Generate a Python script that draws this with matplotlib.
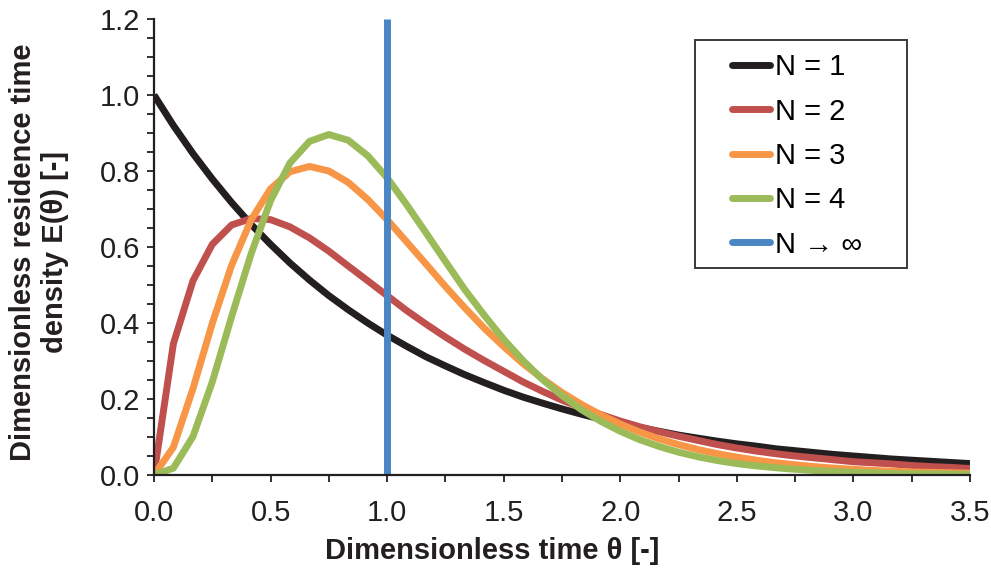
import matplotlib
matplotlib.use("Agg")
import matplotlib.pyplot as plt
from matplotlib.ticker import MultipleLocator, FormatStrFormatter
from matplotlib.patches import Rectangle

plt.rcParams['font.family'] = ['Liberation Sans', 'DejaVu Sans']

# Dimensionless time grid (steps of 1/12)
theta = [0.000, 0.083, 0.167, 0.250, 0.333, 0.417, 0.500, 0.583, 0.667, 0.750,
         0.833, 0.917, 1.000, 1.083, 1.167, 1.250, 1.333, 1.417, 1.500, 1.583,
         1.667, 1.750, 1.833, 1.917, 2.000, 2.083, 2.167, 2.250, 2.333, 2.417,
         2.500, 2.583, 2.667, 2.750, 2.833, 2.917, 3.000, 3.083, 3.167, 3.250,
         3.333, 3.417, 3.500]

e_n1 = [1.000, 0.920, 0.846, 0.779, 0.717, 0.659, 0.607, 0.558, 0.513, 0.472,
        0.435, 0.400, 0.368, 0.339, 0.311, 0.287, 0.264, 0.243, 0.223, 0.205,
        0.189, 0.174, 0.160, 0.147, 0.135, 0.125, 0.115, 0.105, 0.097, 0.089,
        0.082, 0.076, 0.069, 0.064, 0.059, 0.054, 0.050, 0.046, 0.042, 0.039,
        0.036, 0.033, 0.030]

e_n2 = [0.000, 0.345, 0.511, 0.607, 0.658, 0.675, 0.672, 0.653, 0.624, 0.589,
        0.550, 0.511, 0.472, 0.433, 0.397, 0.363, 0.331, 0.301, 0.273, 0.245,
        0.220, 0.197, 0.177, 0.159, 0.142, 0.127, 0.114, 0.102, 0.091, 0.080,
        0.071, 0.063, 0.056, 0.050, 0.045, 0.040, 0.035, 0.032, 0.029, 0.025,
        0.022, 0.020, 0.017]

e_n3 = [0.000, 0.073, 0.227, 0.399, 0.552, 0.672, 0.753, 0.798, 0.812, 0.800,
        0.770, 0.725, 0.672, 0.614, 0.555, 0.496, 0.440, 0.386, 0.338, 0.293,
        0.253, 0.217, 0.186, 0.158, 0.134, 0.113, 0.095, 0.080, 0.067, 0.056,
        0.047, 0.039, 0.032, 0.027, 0.022, 0.018, 0.015, 0.012, 0.010, 0.008,
        0.007, 0.006, 0.005]

e_n4 = [0.000, 0.018, 0.101, 0.245, 0.417, 0.583, 0.722, 0.821, 0.878, 0.896,
        0.881, 0.840, 0.782, 0.712, 0.637, 0.562, 0.488, 0.420, 0.357, 0.301,
        0.251, 0.209, 0.172, 0.141, 0.115, 0.093, 0.075, 0.060, 0.048, 0.038,
        0.030, 0.024, 0.019, 0.015, 0.012, 0.009, 0.007, 0.006, 0.004, 0.003,
        0.003, 0.002, 0.002]

# Plug flow (N -> infinity): vertical line at theta = 1
e_inf_x = [1.0, 1.0]
e_inf_y = [0.0, 1.2]

series = [
    ("N = 1", e_n1, "#231F20"),
    ("N = 2", e_n2, "#C0504D"),
    ("N = 3", e_n3, "#F79646"),
    ("N = 4", e_n4, "#9BBB59"),
]
inf_label = "N \u2192 \u221e"
inf_color = "#4A86C4"

fig = plt.figure(figsize=(9.91, 5.70), dpi=100)
ax = fig.add_axes([154/991, 95/570, 816/991, 456/570])

lw = 5.0
for lab, ys, col in series:
    ax.plot(theta, ys, color=col, lw=lw, label=lab, solid_capstyle='butt',
            solid_joinstyle='round')
ax.plot(e_inf_x, e_inf_y, color=inf_color, lw=lw, label=inf_label, solid_capstyle='butt')

ax.set_xlim(0, 3.5)
ax.set_ylim(0, 1.2)
ax.xaxis.set_major_locator(MultipleLocator(0.5))
ax.xaxis.set_minor_locator(MultipleLocator(0.25))
ax.yaxis.set_major_locator(MultipleLocator(0.2))
ax.yaxis.set_minor_locator(MultipleLocator(0.05))
ax.xaxis.set_major_formatter(FormatStrFormatter('%.1f'))
ax.yaxis.set_major_formatter(FormatStrFormatter('%.1f'))

for s in ['top', 'right']:
    ax.spines[s].set_visible(False)
for s in ['left', 'bottom']:
    ax.spines[s].set_color('#231F20')
    ax.spines[s].set_linewidth(1.6)

ax.tick_params(which='both', direction='out', color='#231F20', width=1.3)
ax.tick_params(which='major', length=5, labelsize=21, colors='#231F20')
ax.tick_params(which='minor', length=5)
ax.tick_params(axis='x', which='major', pad=12)
ax.tick_params(axis='y', which='major', pad=5)

fig.text(492/991, 1 - 551/570, "Dimensionless time \u03b8 [-]", ha='center', va='center',
         fontsize=21, fontweight='bold', color='#231F20')
fig.text(39/991, 1 - 252/570, "Dimensionless residence time\ndensity E(\u03b8) [-]",
         ha='center', va='center', rotation=90, fontsize=21, fontweight='bold',
         color='#231F20', linespacing=1.15)

# Legend frame
rect = Rectangle((0.663, 0.454), 0.260, 0.500, transform=ax.transAxes,
                 facecolor='white', edgecolor='#3A3A3A', lw=1.4, zorder=4)
ax.add_patch(rect)
leg = ax.legend(loc='upper left', bbox_to_anchor=(0.708, 0.925), frameon=False,
                fontsize=21, handlelength=1.3, handletextpad=0.2,
                labelspacing=0.56, borderpad=0, borderaxespad=0)
leg.set_zorder(5)
for h in leg.get_lines():
    h.set_solid_capstyle('round')
    h.set_linewidth(5)

fig.savefig("out.png", dpi=100)
